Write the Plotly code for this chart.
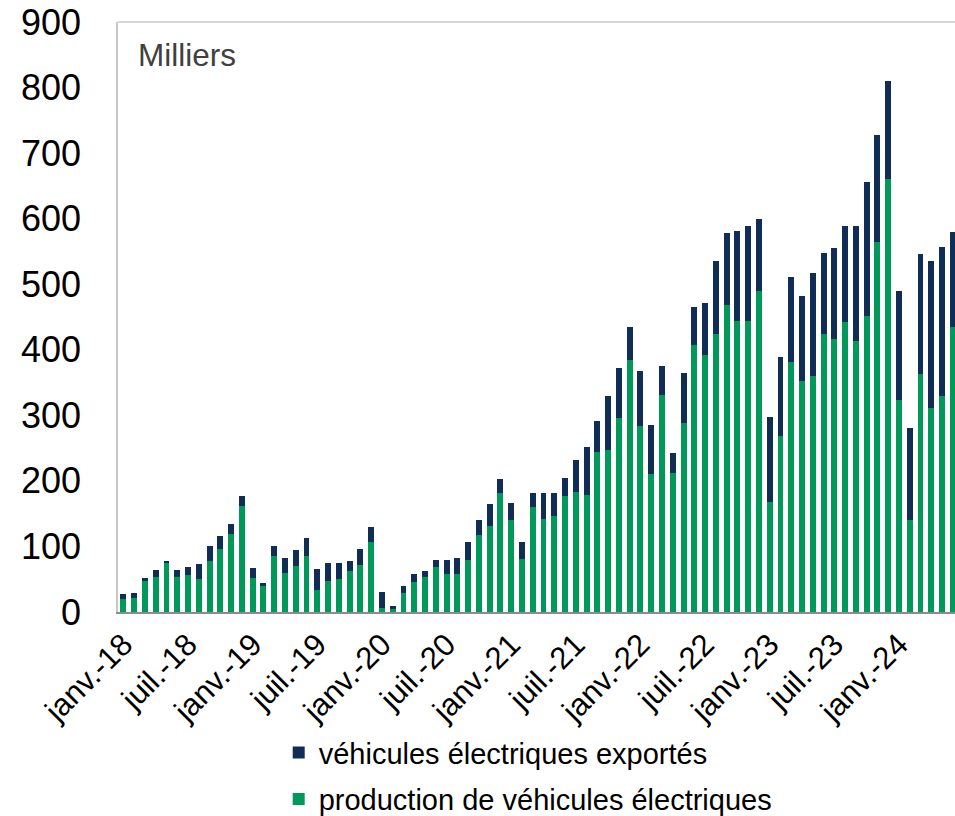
import plotly.graph_objects as go

# Monthly values, janv. 2018 -> juin 2024 (milliers)
production = [20, 21, 48, 53, 75, 53, 57, 51, 78, 96, 119, 162,
              52, 40, 86, 60, 70, 85, 34, 47, 50, 62, 72, 107,
              6, 5, 29, 46, 54, 69, 58, 58, 79, 118, 131, 181,
              140, 81, 160, 142, 147, 177, 183, 178, 244, 247, 296, 384,
              284, 210, 331, 212, 289, 407, 392, 424, 469, 444, 444, 490,
              168, 268, 381, 352, 360, 424, 416, 442, 413, 451, 564, 660,
              323, 140, 363, 311, 330, 434]
exports = [8, 8, 4, 11, 2, 11, 11, 22, 22, 20, 16, 15,
           15, 4, 15, 22, 24, 28, 31, 27, 24, 16, 24, 23,
           25, 4, 10, 12, 9, 10, 21, 24, 28, 23, 33, 22,
           26, 26, 22, 40, 34, 27, 49, 74, 47, 82, 76, 50,
           83, 75, 45, 30, 75, 59, 80, 112, 109, 137, 145, 110,
           130, 121, 130, 130, 157, 124, 139, 147, 176, 205, 163, 150,
           166, 140, 183, 224, 227, 145]
tick_labels = ["janv.-18", "juil.-18", "janv.-19", "juil.-19", "janv.-20", "juil.-20",
               "janv.-21", "juil.-21", "janv.-22", "juil.-22", "janv.-23", "juil.-23", "janv.-24"]

x = list(range(len(production)))
tick_vals = [6 * i for i in range(len(tick_labels))]

GREEN = "#00995A"
NAVY = "#0F2D55"

fig = go.Figure()
fig.add_trace(go.Bar(x=x, y=production, name="production de véhicules électriques",
                     marker=dict(color=GREEN, line=dict(width=0)),
                     legendgroup="a", legendrank=2))
fig.add_trace(go.Bar(x=x, y=exports, name="véhicules électriques exportés",
                     marker=dict(color=NAVY, line=dict(width=0)),
                     legendgroup="b", legendrank=1))

fig.update_layout(
    width=955, height=816,
    margin=dict(l=118, r=0, t=22, b=204, autoexpand=False),
    barmode="stack", bargap=0.45,
    plot_bgcolor="white", paper_bgcolor="white",
    font=dict(family="Liberation Sans, Arial, sans-serif", color="black"),
    showlegend=True,
    legend=dict(x=0.192, y=0.109, xref="paper", yref="container",
                xanchor="left", yanchor="top",
                font=dict(size=29), tracegroupgap=6, bgcolor="rgba(0,0,0,0)"),
    xaxis=dict(range=[-0.5, 77.2], tickmode="array", tickvals=tick_vals, ticktext=tick_labels,
               tickangle=-45, tickfont=dict(size=31), showgrid=False, zeroline=False,
               showline=True, linecolor="#8c8c8c", linewidth=2, ticks="", automargin=False),
    yaxis=dict(range=[0, 900], dtick=100, tickfont=dict(size=36), showgrid=False,
               zeroline=False, showline=True, linecolor="#c8c8c8", linewidth=1.5,
               ticks="", ticklabelstandoff=28, automargin=False),
    shapes=[dict(type="line", xref="paper", yref="paper", x0=0, x1=1, y0=1, y1=1,
                 line=dict(color="#c8c8c8", width=1.5))],
    annotations=[dict(text="Milliers", xref="paper", yref="paper", x=0.022, y=0.978,
                      xanchor="left", yanchor="top", showarrow=False,
                      font=dict(size=31.5, color="#404040"))],
)

fig.write_html("out.html", config={"displayModeBar": False},
               post_script="document.body.style.margin='0';document.body.style.overflow='hidden';")
